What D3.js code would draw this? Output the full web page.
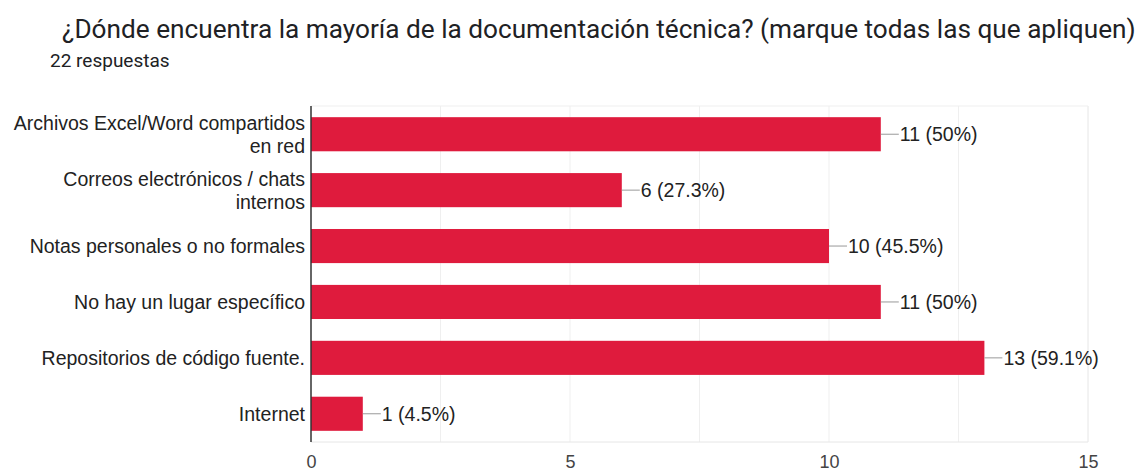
<!DOCTYPE html>
<meta charset="utf-8">
<style>
body { margin: 0; background: #fff; }
.title { font-family: Roboto, sans-serif; font-size: 26.2px; fill: #202124; }
.sub { font-family: Roboto, sans-serif; font-size: 19px; fill: #202124; }
.cat { font-family: "Liberation Sans", Arial, sans-serif; font-size: 19.5px; fill: #222; }
.val { font-family: "Liberation Sans", Arial, sans-serif; font-size: 19.5px; fill: #222; }
.tick text { font-family: "Liberation Sans", Arial, sans-serif; font-size: 18px; fill: #444; }
</style>
<svg width="1138" height="471"></svg>
<script src="https://d3js.org/d3.v7.min.js"></script>
<script>

var categorias = [
  ["Archivos Excel/Word compartidos", "en red"],
  ["Correos electrónicos / chats", "internos"],
  ["Notas personales o no formales"],
  ["No hay un lugar específico"],
  ["Repositorios de código fuente."],
  ["Internet"]
];
var valores = [11, 6, 10, 11, 13, 1];
var etiquetas = ["11 (50%)", "6 (27.3%)", "10 (45.5%)", "11 (50%)", "13 (59.1%)", "1 (4.5%)"];
var ticks = [0, 5, 10, 15];

var svg = d3.select("svg");
var pLeft = 311, pRight = 1088, pTop = 106, pBottom = 442;

var x = d3.scaleLinear().domain([0, 15]).range([pLeft, pRight]);
var y = d3.scaleBand().domain(d3.range(valores.length)).range([pTop, pBottom]).paddingInner(0.39).paddingOuter(0.2);

svg.append("text").attr("class", "title").attr("x", 62).attr("y", 38)
  .text("¿Dónde encuentra la mayoría de la documentación técnica? (marque todas las que apliquen)");
svg.append("text").attr("class", "sub").attr("x", 50).attr("y", 67).text("22 respuestas");

// grid
svg.append("g").selectAll("line").data(d3.range(2.5, 15.1, 2.5)).enter().append("line")
  .attr("x1", d => x(d)).attr("x2", d => x(d)).attr("y1", pTop).attr("y2", pBottom)
  .attr("stroke", d => d == 15 ? "#e6e6e6" : "#efefef").attr("stroke-width", 1);
svg.append("line").attr("x1", pLeft).attr("x2", pRight).attr("y1", pTop).attr("y2", pTop).attr("stroke", "#efefef");
svg.append("line").attr("x1", pLeft).attr("x2", pRight).attr("y1", pBottom).attr("y2", pBottom).attr("stroke", "#e6e6e6");

// bars
svg.append("g").selectAll("rect").data(valores).enter().append("rect")
  .attr("x", pLeft).attr("y", (d, i) => y(i)).attr("width", d => x(d) - pLeft).attr("height", y.bandwidth())
  .attr("fill", "#df1b3d");

// connectors + labels
var g = svg.append("g").selectAll("g").data(valores).enter().append("g");
g.append("line").attr("x1", d => x(d)).attr("x2", d => x(d) + 18)
  .attr("y1", (d, i) => y(i) + y.bandwidth() / 2).attr("y2", (d, i) => y(i) + y.bandwidth() / 2)
  .attr("stroke", "#999").attr("stroke-width", 1);
g.append("text").attr("class", "val").attr("x", d => x(d) + 19)
  .attr("y", (d, i) => y(i) + y.bandwidth() / 2).attr("dy", "0.35em")
  .text((d, i) => etiquetas[i]);

// category labels (line height 23px)
svg.append("g").selectAll("text").data(categorias).enter().append("text")
  .attr("class", "cat").attr("text-anchor", "end")
  .attr("y", (d, i) => y(i) + y.bandwidth() / 2)
  .each(function(d) {
    var t = d3.select(this);
    d.forEach((line, k) => {
      t.append("tspan").attr("x", 305)
        .attr("dy", k == 0 ? (7 - (d.length - 1) * 11.5) : 23)
        .text(line);
    });
  });

// axis
var ax = svg.append("g").attr("transform", "translate(0," + pBottom + ")")
  .call(d3.axisBottom(x).tickValues(ticks).tickSize(0).tickPadding(13));
ax.select(".domain").remove();

svg.append("line").attr("x1", pLeft).attr("x2", pLeft).attr("y1", pTop).attr("y2", pBottom)
  .attr("stroke", "#333").attr("stroke-width", 1.5);
</script>
